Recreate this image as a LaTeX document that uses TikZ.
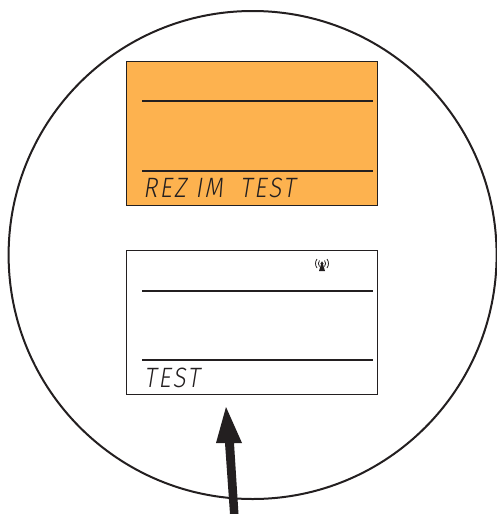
\documentclass[tikz,border=0pt]{standalone}
\usepackage{fontspec}
\newfontfamily\lcdfont[FakeSlant=0.16,FakeStretch=0.86,LetterSpace=8]{Fira Sans Light}
\definecolor{ink}{HTML}{231F20}
\definecolor{panelorange}{HTML}{FDB24F}
\tikzset{
  x=1pt,y=-1pt,
  panel/.style={draw=ink,line width=0.6pt},
  rulebar/.style={draw=ink,line width=1.5pt},
  lcdtext/.style={anchor=base west,inner sep=0pt,text=ink,font=\lcdfont\fontsize{28}{28}\selectfont},
  ring/.style={draw=ink,line width=2pt},
  wave/.style={draw=ink,line width=0.8pt},
}
\begin{document}
\begin{tikzpicture}
\useasboundingbox (0,0) rectangle (496,514);
\draw[ring] (252.6,255) circle (244);
% upper display
\node[panel,fill=panelorange,minimum width=251,minimum height=144,inner sep=0pt,anchor=north west] (upper) at (125.7,60.5) {};
\coordinate (ua) at (142,101); \coordinate (ub) at (373,101);
\coordinate (uc) at (142,171); \coordinate (ud) at (373,171);
\draw[rulebar] (ua) -- (ub);
\draw[rulebar] (uc) -- (ud);
\node[lcdtext] (uppertext) at (143,197) {REZ IM\hspace{8pt} TEST};
% lower display
\node[panel,fill=white,minimum width=251,minimum height=144,inner sep=0pt,anchor=north west] (lower) at (125.7,250.3) {};
\coordinate (la) at (142,291); \coordinate (lb) at (373,291);
\coordinate (lc) at (142,360); \coordinate (ld) at (373,360);
\draw[rulebar] (la) -- (lb);
\draw[rulebar] (lc) -- (ld);
\node[lcdtext] (lowertext) at (144,387) {TEST};
% antenna icon
\fill[ink] (322,261) -- (325,271) -- (319,271) -- cycle;
\fill[ink] (322,263.5) circle (1.6);
\draw[wave] (319.5,260.5) .. controls (318,262.5) and (318,264.5) .. (319.5,266.5);
\draw[wave] (317,259) .. controls (315,262) and (315,265) .. (317,268);
\draw[wave] (324.5,260.5) .. controls (326,262.5) and (326,264.5) .. (324.5,266.5);
\draw[wave] (327,259) .. controls (329,262) and (329,265) .. (327,268);
% arrow
\fill[ink] (226,407) -- (242,443) -- (234,443) -- (238.5,514) -- (230,514) -- (225,443) -- (216,443) -- cycle;
\end{tikzpicture}
\end{document}
